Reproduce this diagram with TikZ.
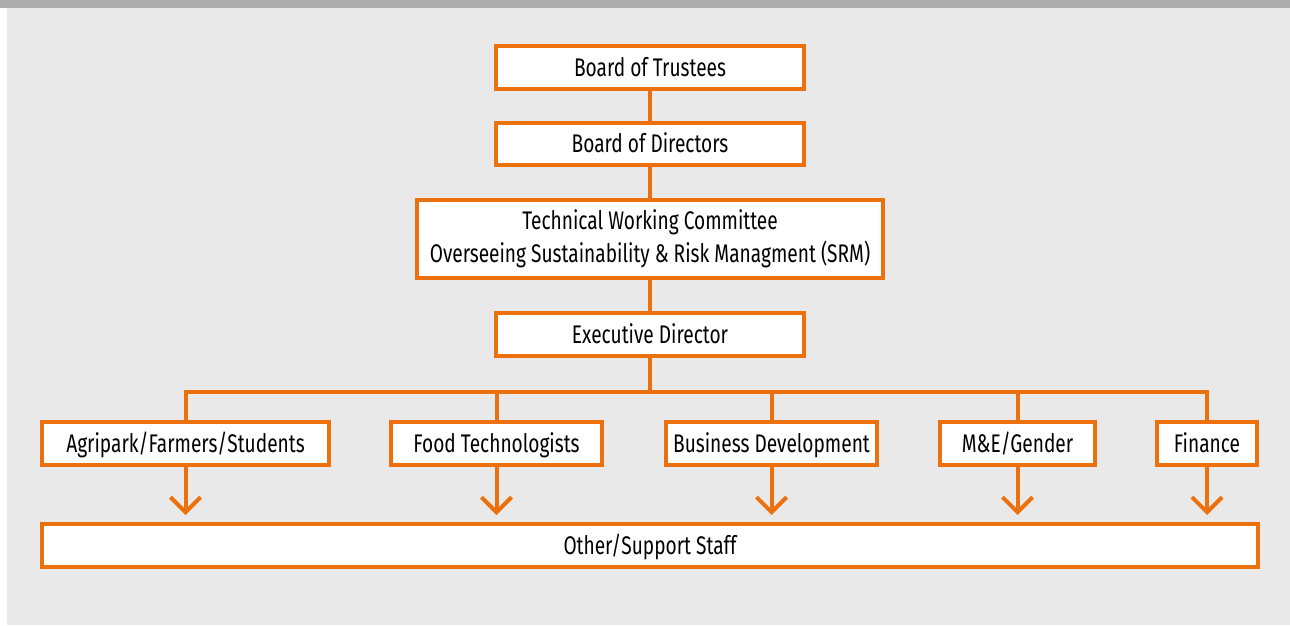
\documentclass[tikz,border=0pt]{standalone}
\usepackage{fontspec}
\setmainfont{Fira Sans}[FakeStretch=0.75]
\usepackage{xcolor}
\usepackage{tikz}
\usetikzlibrary{shapes,arrows,arrows.meta,positioning}

\definecolor{orgorange}{RGB}{236,112,12}
\definecolor{bartop}{RGB}{173,173,173}
\definecolor{bgpanel}{RGB}{233,233,233}

\tikzset{
    orgbox/.style={
        draw=orgorange,
        line width=0.08cm,
        fill=white,
        inner sep=0pt,
        minimum height=0.86cm,
        align=center,
        font=\fontsize{14.5}{18.8}\selectfont
        },
    unitbox/.style={
        orgbox,
        text height=11pt,
        text depth=1pt
        },
    orgline/.style={
        draw=orgorange,
        line width=0.08cm
        },
    orgarrow/.style={
        orgline,
        -{Straight Barb[length=0.3cm,width=0.6cm]},
        shorten >=0.14cm
        }
}

\begin{document}
\begin{tikzpicture}[x=0.02cm,y=-0.02cm]
                \useasboundingbox (0,0) rectangle (1290,625);
                \fill[bartop] (0,0) rectangle (1290,8);
                \fill[bgpanel] (7,8) rectangle (1290,625);

                % top of the chart
                \node[unitbox, minimum width=6.16cm] (trustees) at (650,67.5) {Board of Trustees};
                \node[unitbox, minimum width=6.16cm] (directors) at (650,144) {Board of Directors};
                \node[orgbox, minimum width=9.34cm, minimum height=1.58cm] (twc) at (650,239)
                    {Technical Working Committee\\Overseeing Sustainability \& Risk Managment (SRM)};
                \node[unitbox, minimum width=6.16cm] (exec) at (650,334.5) {Executive Director};

                % units
                \node[unitbox, minimum width=5.74cm] (agri) at (185.5,443.5) {Agripark/Farmers/Students};
                \node[unitbox, minimum width=4.22cm] (food) at (496.5,443.5) {Food Technologists};
                \node[unitbox, minimum width=4.22cm] (busdev) at (771.5,443.5) {Business Development};
                \node[unitbox, minimum width=3.10cm] (mne) at (1017.5,443.5) {M\&E/Gender};
                \node[unitbox, minimum width=2.00cm] (fin) at (1207,443.5) {Finance};

                \node[unitbox, minimum width=24.32cm] (staff) at (650,545.5) {Other/Support Staff};

                \draw[orgline] (trustees) -- (directors);
                \draw[orgline] (directors) -- (twc);
                \draw[orgline] (twc) -- (exec);

                \coordinate (bus) at (650,392);
                \draw[orgline] (exec) -- (bus);
                \draw[orgline] (agri.north) |- (bus) -| (fin.north);
                \foreach \n in {food,busdev,mne}
                    \draw[orgline] (\n.north) -- (\n.north |- bus);

                \foreach \n in {agri,food,busdev,mne,fin}
                    \draw[orgarrow] (\n.south) -- (\n.south |- staff.north);

            \end{tikzpicture}
\end{document}
